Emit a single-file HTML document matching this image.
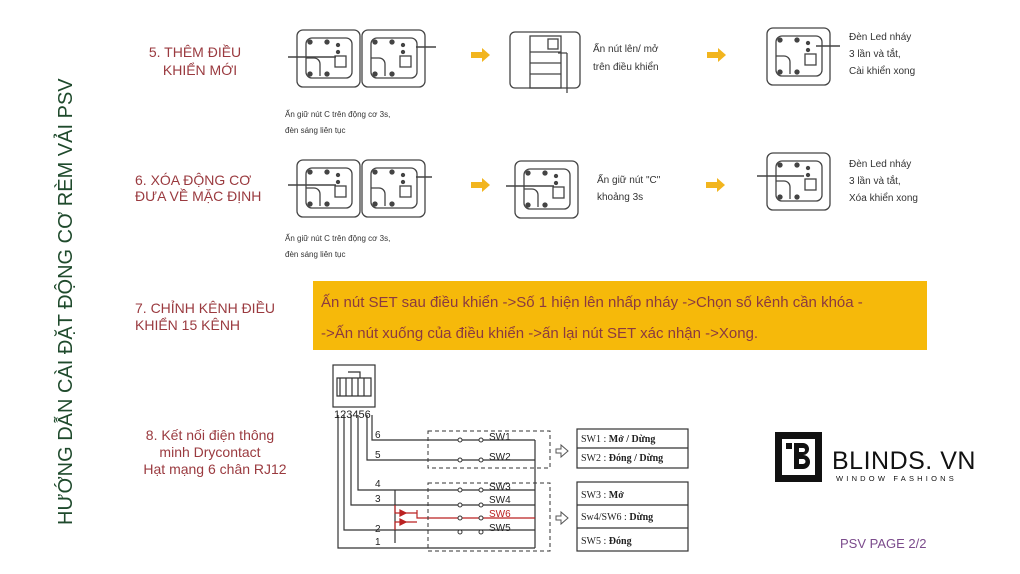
<!DOCTYPE html>
<html><head><meta charset="utf-8"><style>
body{margin:0;background:#fff;width:1020px;height:574px;overflow:hidden;font-family:"Liberation Sans",sans-serif}
svg{position:absolute;left:0;top:0}
.t{fill:#9a3a3f;font-size:14px}
.s{fill:#333;font-size:10px}
.xs{fill:#333;font-size:8px}
</style></head><body>
<svg width="1020" height="574" viewBox="0 0 1020 574" font-family="Liberation Sans, sans-serif">
<defs>
<g id="m" fill="none" stroke="#444" stroke-width="1.3">
<rect x="0" y="0" width="63" height="57" rx="6"/>
<rect x="9" y="8" width="46" height="40" rx="6"/>
<circle cx="13" cy="12" r="2" fill="#444"/><circle cx="30" cy="12" r="2" fill="#444"/>
<circle cx="13" cy="44" r="2" fill="#444"/><circle cx="30" cy="44" r="2" fill="#444"/>
<circle cx="41" cy="15" r="1.5" fill="#444"/><circle cx="41" cy="22" r="1.5" fill="#444"/>
<rect x="38" y="26" width="11" height="11"/>
<path d="M9 28 h8 a6 6 0 0 1 6 6 v12"/>
</g>
<g id="ar"><path d="M0 -3 h11 v-4 l8 7 l-8 7 v-4 h-11z" fill="#f2b51e"/></g>
</defs>

<text transform="translate(72,525) rotate(-90)" font-size="20" fill="#1f4a2c">HƯỚNG DẪN CÀI ĐẶT ĐỘNG CƠ RÈM VẢI PSV</text>

<text class="t" x="195" y="57" text-anchor="middle">5. THÊM ĐIỀU</text>
<text class="t" x="200" y="75" text-anchor="middle">KHIỂN MỚI</text>
<text class="t" x="135" y="185">6. XÓA ĐỘNG CƠ</text>
<text class="t" x="135" y="201">ĐƯA VỀ MẶC ĐỊNH</text>
<text class="t" x="135" y="313">7. CHỈNH KÊNH ĐIỀU</text>
<text class="t" x="135" y="330">KHIỂN 15 KÊNH</text>
<text class="t" x="210" y="440" text-anchor="middle">8. Kết nối điện thông</text>
<text class="t" x="210" y="457" text-anchor="middle">minh Drycontact</text>
<text class="t" x="215" y="474" text-anchor="middle">Hạt mạng 6 chân RJ12</text>

<!-- row 5 -->
<use href="#m" x="297" y="30"/><use href="#m" x="362" y="30"/>
<path d="M288 57 h48 M436 47 h-20" stroke="#444" stroke-width="1.5"/>
<use href="#ar" x="471" y="55"/>
<g fill="none" stroke="#444" stroke-width="1.3"><rect x="510" y="32" width="70" height="56" rx="5"/>
<rect x="530" y="36" width="31" height="52"/><rect x="548" y="39" width="10" height="10"/>
<path d="M530 52h31M530 63h31M530 74h31M567 53v40M558 53h9"/></g>
<text class="s" x="593" y="52">Ấn nút lên/ mở</text>
<text class="s" x="593" y="70">trên điều khiển</text>
<use href="#ar" x="707" y="55"/>
<use href="#m" x="767" y="28"/>
<path d="M840 46 h-24" stroke="#444" stroke-width="1.5"/>
<text class="s" x="849" y="40">Đèn Led nháy</text>
<text class="s" x="849" y="57">3 lần và tắt,</text>
<text class="s" x="849" y="74">Cài khiển xong</text>
<text class="xs" x="285" y="117">Ấn giữ nút C trên động cơ 3s,</text>
<text class="xs" x="285" y="133">đèn sáng liên tục</text>

<!-- row 6 -->
<use href="#m" x="297" y="160"/><use href="#m" x="362" y="160"/>
<path d="M288 185 h48 M432 177 h-16" stroke="#444" stroke-width="1.5"/>
<use href="#ar" x="471" y="185"/>
<use href="#m" x="515" y="161"/>
<path d="M506 186 h48" stroke="#444" stroke-width="1.5"/>
<text class="s" x="597" y="183">Ấn giữ nút "C"</text>
<text class="s" x="597" y="200">khoảng 3s</text>
<use href="#ar" x="706" y="185"/>
<use href="#m" x="767" y="153"/>
<path d="M757 176 h47" stroke="#444" stroke-width="1.5"/>
<text class="s" x="849" y="167">Đèn Led nháy</text>
<text class="s" x="849" y="184">3 lần và tắt,</text>
<text class="s" x="849" y="201">Xóa khiển xong</text>
<text class="xs" x="285" y="241">Ấn giữ nút C trên động cơ 3s,</text>
<text class="xs" x="285" y="257">đèn sáng liên tục</text>

<!-- orange box -->
<rect x="313" y="281" width="614" height="69" fill="#f6b90a"/>
<text x="321" y="307" font-size="15" fill="#8b3a40">Ấn nút SET sau điều khiển -&gt;Số 1 hiện lên nhấp nháy -&gt;Chọn số kênh cần khóa -</text>
<text x="321" y="338" font-size="15" fill="#8b3a40">-&gt;Ấn nút xuống của điều khiển -&gt;ấn lại nút SET xác nhận -&gt;Xong.</text>

<!-- circuit -->
<g fill="none" stroke="#333" stroke-width="1.2">
<rect x="333" y="365" width="42" height="42"/>
<path d="M337 378h34v18h-34z M348 372h12v6"/>
<path d="M340 378v18M346 378v18M352 378v18M358 378v18M364 378v18"/>
<path d="M372 415v25h163 M367 415v45h168 M358 415v75h177 M351 415v90h184 M344 415v115h191 M338 415v37 M338 452v96h197 M535 440v108"/>
<path d="M395 490v53"/>
</g>
<g fill="none" stroke="#b22" stroke-width="1.2"><path d="M395 505 v8 h22 M395 530 v-8 h22 M417 510 v8 h118"/>
<path d="M400 510l6 3l-6 3z M400 519l6 3l-6 3z" fill="#b22"/></g>
<g font-size="10" fill="#222">
<text x="334" y="418" font-size="11">123456</text>
<text x="375" y="438">6</text><text x="375" y="458">5</text><text x="375" y="487">4</text>
<text x="375" y="502">3</text><text x="375" y="532">2</text><text x="375" y="545">1</text>
<text x="489" y="440">SW1</text><text x="489" y="460">SW2</text><text x="489" y="490">SW3</text>
<text x="489" y="503">SW4</text><text x="489" y="517" fill="#b22">SW6</text><text x="489" y="531">SW5</text>
</g>
<g fill="#fff" stroke="#333" stroke-width="1">
<circle cx="460" cy="440" r="2"/><circle cx="481" cy="440" r="2"/>
<circle cx="460" cy="460" r="2"/><circle cx="481" cy="460" r="2"/>
<circle cx="460" cy="490" r="2"/><circle cx="481" cy="490" r="2"/>
<circle cx="460" cy="505" r="2"/><circle cx="481" cy="505" r="2"/>
<circle cx="460" cy="518" r="2"/><circle cx="481" cy="518" r="2"/>
<circle cx="460" cy="532" r="2"/><circle cx="481" cy="532" r="2"/>
</g>
<g fill="none" stroke="#333" stroke-width="1" stroke-dasharray="4,3">
<rect x="428" y="431" width="122" height="37"/><rect x="428" y="483" width="122" height="68"/>
</g>
<g fill="none" stroke="#555"><path d="M556 449h5v-4l7 6l-7 6v-4h-5z M556 516h5v-4l7 6l-7 6v-4h-5z"/></g>
<g fill="none" stroke="#333" stroke-width="1.2">
<rect x="577" y="429" width="111" height="39"/><path d="M577 448h111"/>
<rect x="577" y="482" width="111" height="69"/><path d="M577 505h111M577 528h111"/>
</g>
<g font-family="Liberation Serif, serif" font-size="10" fill="#222">
<text x="581" y="442">SW1 : <tspan font-weight="bold">Mở / Dừng</tspan></text>
<text x="581" y="461">SW2 : <tspan font-weight="bold">Đóng / Dừng</tspan></text>
<text x="581" y="498">SW3 : <tspan font-weight="bold">Mở</tspan></text>
<text x="581" y="520">Sw4/SW6 : <tspan font-weight="bold">Dừng</tspan></text>
<text x="581" y="544">SW5 : <tspan font-weight="bold">Đóng</tspan></text>
</g>

<!-- logo -->
<g fill="#111">
<path d="M775 432h47v50h-47z M782 439v36h33v-36z" fill-rule="evenodd"/>
<rect x="786" y="443" width="6" height="6"/>
<path d="M794 443h9a6 6 0 0 1 0 12a7 7 0 0 1 0 14h-9z M799 448v4h4a2 2 0 0 0 0-4z M799 459v5h4a2.5 2.5 0 0 0 0-5z" fill-rule="evenodd"/>
</g>
<text x="832" y="469" font-size="25" fill="#111" letter-spacing="0.5">BLINDS. VN</text>
<text x="836" y="481" font-size="7.5" fill="#111" letter-spacing="3.2">WINDOW FASHIONS</text>
<text x="840" y="548" font-size="13" fill="#7b4b8c">PSV PAGE 2/2</text>
</svg>
</body></html>
